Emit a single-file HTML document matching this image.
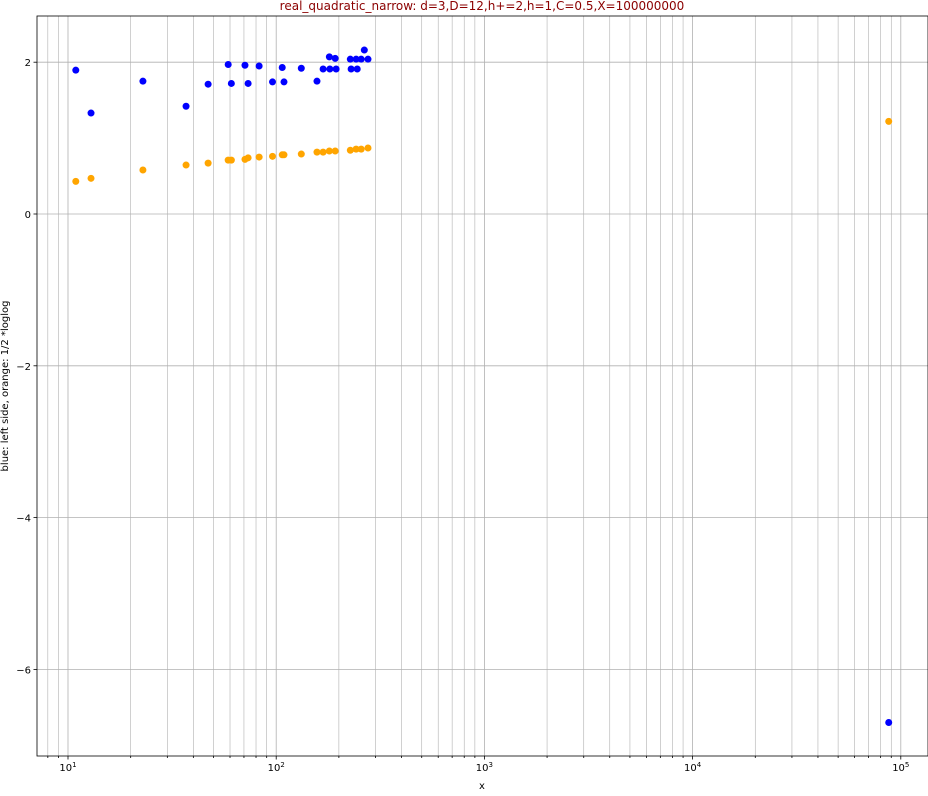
<!DOCTYPE html>
<html><head><meta charset="utf-8"><style>
body{margin:0;background:#fff;font-family:"Liberation Sans","DejaVu Sans",sans-serif}
svg text{font-family:"DejaVu Sans","Liberation Sans",sans-serif}
</style></head><body>
<svg id="chart" width="928" height="791" xmlns="http://www.w3.org/2000/svg">
<rect width="928" height="791" fill="#fff"/>
<g id="grid"></g>
<g id="marks"></g>
<g id="axes"></g>
<text x="482" y="10" text-anchor="middle" font-size="12" fill="#8b0000">real_quadratic_narrow: d=3,D=12,h+=2,h=1,C=0.5,X=100000000</text>
<text x="482" y="789" text-anchor="middle" font-size="10">x</text>
<text transform="translate(8,386) rotate(-90)" text-anchor="middle" font-size="10">blue: left side, orange: 1/2 *loglog</text>
</svg>
<script>
const xs=[10.9,12.9,22.9,36.9,47.1,58.8,60.9,70.8,73.3,82.8,96,106.9,109,132,157,168,180,181,192,194,227,229,242,245,256,265,276,87500];
const blueVals=[1.895,1.33,1.75,1.42,1.71,1.97,1.72,1.96,1.72,1.95,1.74,1.93,1.74,1.92,1.75,1.91,2.07,1.91,2.05,1.91,2.04,1.91,2.04,1.91,2.04,2.16,2.04,-6.70];
const orangeX=[10.9,12.9,22.9,36.9,47.1,58.8,60.9,70.8,73.3,82.8,96,106.9,109,132,157,168,180,192,227,242,256,276,87500];
const orangeVals=[0.43,0.47,0.58,0.645,0.67,0.71,0.71,0.72,0.74,0.75,0.76,0.78,0.78,0.79,0.815,0.815,0.83,0.83,0.84,0.855,0.855,0.87,1.22];
const yTicks=[-6,-4,-2,0,2];
const xDecades=[1,2,3,4,5];
const L=37,R=928,T=16,B=756;
const X=v=>68+(Math.log10(v)-1)*208.2;
const Y=v=>214-v*75.9;
const NS="http://www.w3.org/2000/svg";
function mk(p,tag,a){const e=document.createElementNS(NS,tag);for(const k in a)e.setAttribute(k,a[k]);p.appendChild(e);return e;}
const grid=document.getElementById('grid'),marks=document.getElementById('marks'),axes=document.getElementById('axes');
for(let d=0;d<=5;d++){for(let m=1;m<10;m++){const v=m*Math.pow(10,d);const px=X(v);if(px<L||px>R)continue;
const g=mk(grid,'line',{x1:px,x2:px,y1:T,y2:B,stroke:'#b0b0b0','stroke-width':m==1?0.8:0.6});

const t=mk(axes,'line',{x1:px,x2:px,y1:B,y2:B+(m==1?3.5:2),stroke:'#000','stroke-width':0.8});
}}
xDecades.forEach(d=>{const px=X(Math.pow(10,d));const t=mk(axes,'text',{x:px,y:B+15,'text-anchor':'middle','font-size':10});

t.innerHTML='10<tspan dy="-4" font-size="7">'+d+'</tspan>';});
yTicks.forEach(v=>{const py=Y(v);const g=mk(grid,'line',{x1:L,x2:R,y1:py,y2:py,stroke:'#b0b0b0','stroke-width':0.8});

const t=mk(axes,'line',{x1:L-3.5,x2:L,y1:py,y2:py,stroke:'#000','stroke-width':0.8});

const l=mk(axes,'text',{x:L-6,y:py+4,'text-anchor':'end','font-size':10});

l.textContent=(v<0?'\u2212':'')+Math.abs(v);});
const f=mk(axes,'rect',{x:L,y:T,width:R-L,height:B-T,fill:'none',stroke:'#000','stroke-width':0.8});

xs.forEach((v,i)=>{const c=mk(marks,'circle',{cx:X(v),cy:Y(blueVals[i]),r:3.5,fill:'#0000ff'});
});
orangeX.forEach((v,i)=>{const c=mk(marks,'circle',{cx:X(v),cy:Y(orangeVals[i]),r:3.5,fill:'#ffa500'});
});
</script>
</body></html>
